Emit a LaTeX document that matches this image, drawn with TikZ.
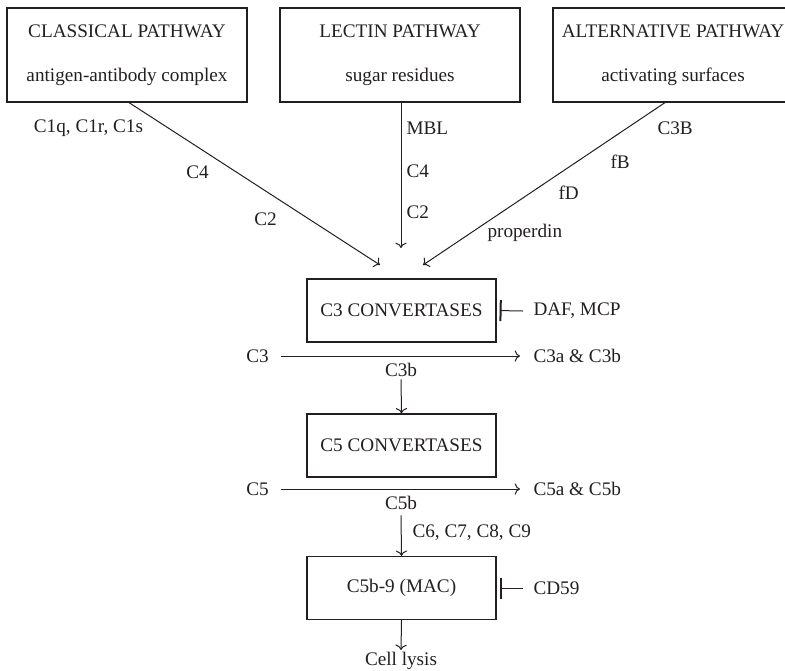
\documentclass[tikz,border=0pt]{standalone}
\usepackage{fontspec}
\setmainfont{Liberation Serif}
\usepackage{tikz}
\usetikzlibrary{arrows.meta}
\definecolor{ink}{RGB}{35, 31, 32}

\begin{document}
\begin{tikzpicture}[x=0.5pt, y=-0.5pt, ink, line width=0.5pt,
    font=\fontsize{9.6}{11.5}\selectfont,
    pathbox/.style={draw, line width=0.6pt, minimum width=120pt, minimum height=47pt, align=center},
    stepbox/.style={draw, line width=0.6pt, minimum width=94.5pt, minimum height=31.5pt},
    lbl/.style={inner sep=0pt, anchor=west},
    blocker/.style={-{Bar[width=10.5pt, line width=1pt]}, shorten >=1.5pt}]
    \useasboundingbox (0,0) rectangle (785,670);

    % Pathways
    \node[pathbox] (classical) at (127,55) {CLASSICAL PATHWAY\\[10.5pt]antigen-antibody complex};
    \node[pathbox] (lectin) at (400,55) {LECTIN PATHWAY\\[10.5pt]sugar residues};
    \node[pathbox] (alternative) at (673,55) {ALTERNATIVE PATHWAY\\[10.5pt]activating surfaces};

    % C3 convertases
    \node[stepbox] (c3conv) at (401.5,310.5) {C3 CONVERTASES};
    \coordinate (inL) at (380,265);
    \coordinate (inM) at (401,248);
    \coordinate (inR) at (423,265);
    \draw[->] (classical.south) ++(2,0) -- (inL);
    \draw[->] (lectin.south) ++(1,0) -- (inM);
    \draw[->] (alternative.south) ++(-8,0) -- (inR);

    \node[inner sep=0pt] at (88.5,128) {C1q, C1r, C1s};
    \node[inner sep=0pt] at (197.5,172) {C4};
    \node[inner sep=0pt] at (265.5,219) {C2};
    \node[lbl] at (406,128) {MBL};
    \node[lbl] at (406,171) {C4};
    \node[lbl] at (406,212) {C2};
    \node[lbl] at (657,128) {C3B};
    \node[lbl] at (610,162) {fB};
    \node[lbl] at (558,193) {fD};
    \node[lbl] at (487,233) {properdin};

    \node[lbl] (daf) at (533,311) {DAF, MCP};
    \draw[blocker] ([xshift=-5pt]daf.west) -- (c3conv.east);

    % C3 cleavage
    \node[inner sep=0pt] (c3) at (257.5,356) {C3};
    \node[lbl] (c3ab) at (533,356) {C3a \& C3b};
    \draw[->] ([xshift=6pt]c3.east) -- ([xshift=-6.5pt]c3ab.west);
    \node[inner sep=1pt] (c3b) at (401,370) {C3b};

    % C5 convertases
    \node[stepbox] (c5conv) at (401.5,445.5) {C5 CONVERTASES};
    \draw[->] (c3b.south) -- (c5conv.north);

    \node[inner sep=0pt] (c5) at (257.5,489) {C5};
    \node[lbl] (c5ab) at (533,489) {C5a \& C5b};
    \draw[->] ([xshift=6pt]c5.east) -- ([xshift=-6.5pt]c5ab.west);
    \node[inner sep=1pt] (c5b) at (401,503) {C5b};

    % MAC
    \node[stepbox] (mac) at (401.5,588) {C5b-9 (MAC)};
    \draw[->] (c5b.south) ++(0,3) -- (mac.north);
    \node[lbl] at (412,533) {C6, C7, C8, C9};

    \node[lbl] (cd59) at (533,588) {CD59};
    \draw[blocker] ([xshift=-5pt]cd59.west) -- (mac.east);

    \node[anchor=north, inner sep=1pt] (lysis) at (401,650) {Cell lysis};
    \draw[->] (mac.south) -- (lysis.north);
\end{tikzpicture}
\end{document}
